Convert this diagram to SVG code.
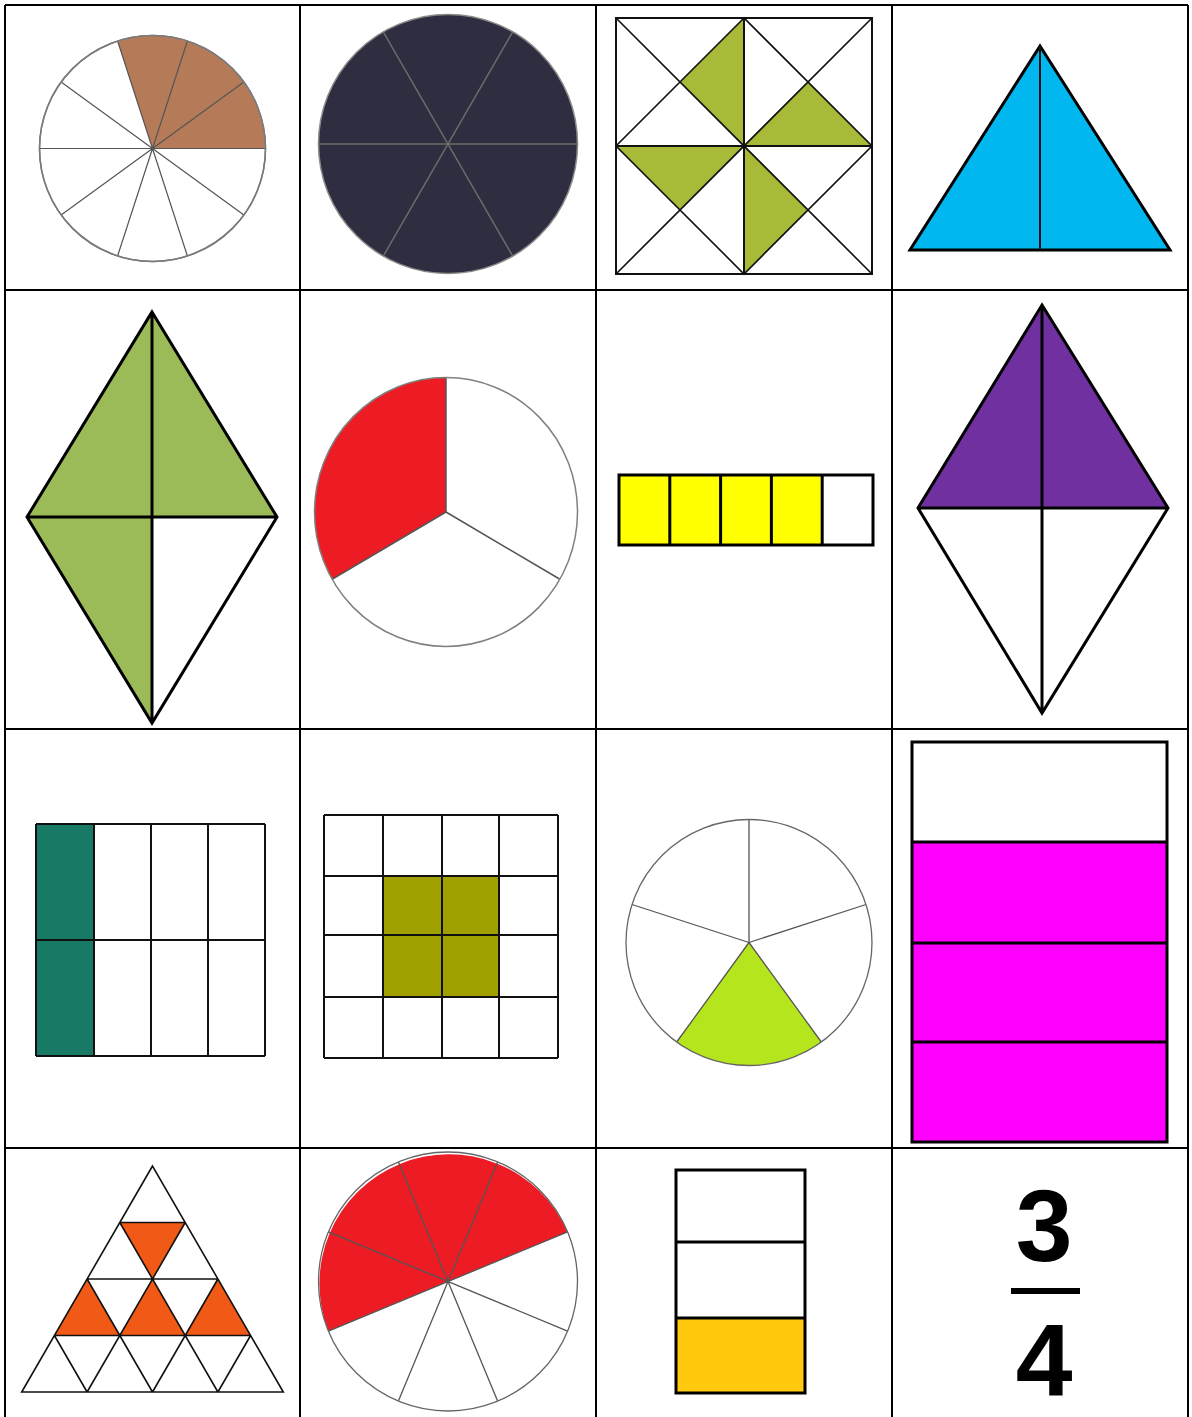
<svg xmlns="http://www.w3.org/2000/svg" width="1192" height="1417" viewBox="0 0 1192 1417">
<style>
.grid{stroke:#000;stroke-width:2;fill:none}
.thin{stroke:#555;stroke-width:1.2;fill:none}
.pieo{stroke:#7a7a7a;stroke-width:1.5}
.k{stroke:#000;stroke-width:3;fill:none;stroke-linejoin:miter}
.k2{stroke:#111;stroke-width:2;fill:none}
.k15{stroke:#111;stroke-width:1.6;fill:none}
.num{font-family:"Liberation Sans",Arial,sans-serif;font-weight:bold;font-size:102px;fill:#000;text-anchor:middle}
</style>
<rect x="0" y="0" width="1192" height="1417" fill="#fff"/>
<g id="table">
<path class="grid" d="M5,5 H1188 M5,290 H1188 M5,729 H1188 M5,1148 H1188 M5,5 V1417 M300,5 V1417 M596,5 V1417 M892,5 V1417 M1188,5 V1417"/>
</g>
<g id="pie-tenths">
<circle cx="152.5" cy="148.5" r="113" fill="#fff" class="pieo"/>
<path d="M152.5,148.5 L265.5,148.5 A113,113 0 0 0 117.6,41 Z" fill="#B57B59"/>
<path class="thin" d="M39.5,148.5 H265.5 M152.5,148.5 L243.9,82.1 M152.5,148.5 L187.4,41 M152.5,148.5 L117.6,41 M152.5,148.5 L61.1,82.1 M152.5,148.5 L61.1,214.9 M152.5,148.5 L117.6,256 M152.5,148.5 L187.4,256 M152.5,148.5 L243.9,214.9"/>
<circle cx="152.5" cy="148.5" r="113" fill="none" class="pieo"/>
</g>
<g id="pie-sixths">
<circle cx="448" cy="144" r="129.5" fill="#2F2E41" stroke="#8a8a8a" stroke-width="1.5"/>
<path d="M318.5,144 H577.5 M512.75,31.85 L383.25,256.15 M383.25,31.85 L512.75,256.15" stroke="#6b6b6b" stroke-width="1.5" fill="none"/>
</g>
<g id="pinwheel">
<rect x="616" y="18" width="256" height="256" fill="#fff"/>
<path d="M744,18 L680,82 L744,146 Z M744,146 L808,82 L872,146 Z M616,146 L744,146 L680,210 Z M744,146 L808,210 L744,274 Z" fill="#A9BA38"/>
<path class="k15" d="M616,18 L872,274 M872,18 L616,274 M744,18 L616,146 L744,274 L872,146 Z"/>
<path class="k2" d="M744,18 V274 M616,146 H872"/>
<rect x="616" y="18" width="256" height="256" class="k2"/>
</g>
<g id="triangle-halves">
<path d="M1040,46 L910,250 L1170,250 Z" class="k" style="fill:#00B7EF"/>
<path class="k2" d="M1040,46 V250"/>
</g>
<g id="kite-green">
<path d="M152,312 L277,517 L152,517 L152,723 L27,517 Z" fill="#9BBB59"/>
<path class="k" d="M152,312 L277,517 L152,723 L27,517 Z M152,312 V723 M27,517 H277"/>
</g>
<g id="pie-thirds">
<ellipse cx="446" cy="512" rx="131.5" ry="134.5" fill="#fff"/>
<path d="M446,512 L446,377.5 A131.5,134.5 0 0 0 332.1,579.25 Z" fill="#ED1C24"/>
<path d="M446,512 V377.5 M446,512 L332.1,579.25 M446,512 L559.9,579.25" stroke="#555" stroke-width="1.5" fill="none"/>
<ellipse cx="446" cy="512" rx="131.5" ry="134.5" fill="none" stroke="#808080" stroke-width="1.5"/>
</g>
<g id="bar-fifths">
<rect x="619" y="475" width="203.2" height="70" fill="#FFFF00"/>
<rect x="619" y="475" width="254" height="70" class="k"/>
<path class="k" d="M669.8,475 V545 M720.6,475 V545 M771.4,475 V545 M822.2,475 V545"/>
</g>
<g id="kite-purple">
<path d="M1042,305 L1168,508 L918,508 Z" fill="#7030A0"/>
<path class="k" d="M1042,305 L1168,508 L1042,713 L918,508 Z M1042,305 V713 M918,508 H1168"/>
</g>
<g id="grid-eighths">
<rect x="36" y="824" width="58" height="232" fill="#187A65"/>
<path class="k2" d="M36,824 H265 M36,940 H265 M36,1056 H265 M36,824 V1056 M94,824 V1056 M151,824 V1056 M208,824 V1056 M265,824 V1056"/>
</g>
<g id="grid-sixteenths">
<rect x="383" y="876" width="116" height="121" fill="#A0A000"/>
<path class="k2" d="M324,815 H558 M324,876 H558 M324,935 H558 M324,997 H558 M324,1058 H558 M324,815 V1058 M383,815 V1058 M442,815 V1058 M499,815 V1058 M558,815 V1058"/>
</g>
<g id="pie-fifths">
<circle cx="749" cy="942.5" r="123" fill="#fff"/>
<path d="M749,942.5 L676.7,1042 A123,123 0 0 0 821.3,1042 Z" fill="#B5E61D"/>
<path d="M749,942.5 V819.5 M749,942.5 L866,904.5 M749,942.5 L632,904.5 M749,942.5 L676.7,1042 M749,942.5 L821.3,1042" stroke="#555" stroke-width="1.3" fill="none"/>
<circle cx="749" cy="942.5" r="123" fill="none" stroke="#666" stroke-width="1.3"/>
</g>
<g id="bar-quarters">
<rect x="912" y="842" width="255" height="300" fill="#FF00FF"/>
<rect x="912" y="742" width="255" height="400" class="k"/>
<path class="k" d="M912,842 H1167 M912,943 H1167 M912,1042 H1167"/>
</g>
<g id="triangle-sixteenths">
<path d="M119.8,1222.5 L185.2,1222.5 L152.5,1279 Z M87.1,1279 L54.4,1335.5 L119.8,1335.5 Z M152.5,1279 L119.8,1335.5 L185.2,1335.5 Z M217.9,1279 L185.2,1335.5 L250.6,1335.5 Z" fill="#F05A16"/>
<path class="k15" d="M152.5,1166 L21.7,1392 H283.3 Z M119.8,1222.5 H185.2 M87.1,1279 H217.9 M54.4,1335.5 H250.6 M185.2,1222.5 L87.1,1392 M217.9,1279 L152.5,1392 M250.6,1335.5 L217.9,1392 M119.8,1222.5 L217.9,1392 M87.1,1279 L152.5,1392 M54.4,1335.5 L87.1,1392"/>
</g>
<g id="pie-eighths">
<circle cx="448" cy="1281.5" r="129.5" fill="#fff"/>
<path d="M448,1281.5 L567.6,1231.9 A129.5,129.5 0 0 0 328.4,1331.1 Z" fill="#ED1C24"/>
<path d="M567.6,1231.9 L328.4,1331.1 M497.6,1161.9 L398.4,1401.1 M398.4,1161.9 L497.6,1401.1 M328.4,1231.9 L567.6,1331.1" stroke="#555" stroke-width="1.3" fill="none"/>
<circle cx="448" cy="1281.5" r="129.5" fill="none" stroke="#666" stroke-width="1.3"/>
</g>
<g id="bar-thirds">
<rect x="676" y="1318" width="129" height="75" fill="#FFC90E"/>
<rect x="676" y="1170" width="129" height="223" class="k"/>
<path class="k" d="M676,1242 H805 M676,1318 H805"/>
</g>
<g id="fraction">
<text class="num" x="1044" y="1261">3</text>
<rect x="1011" y="1288" width="69" height="6" fill="#000"/>
<text class="num" x="1044" y="1395">4</text>
</g>
</svg>
